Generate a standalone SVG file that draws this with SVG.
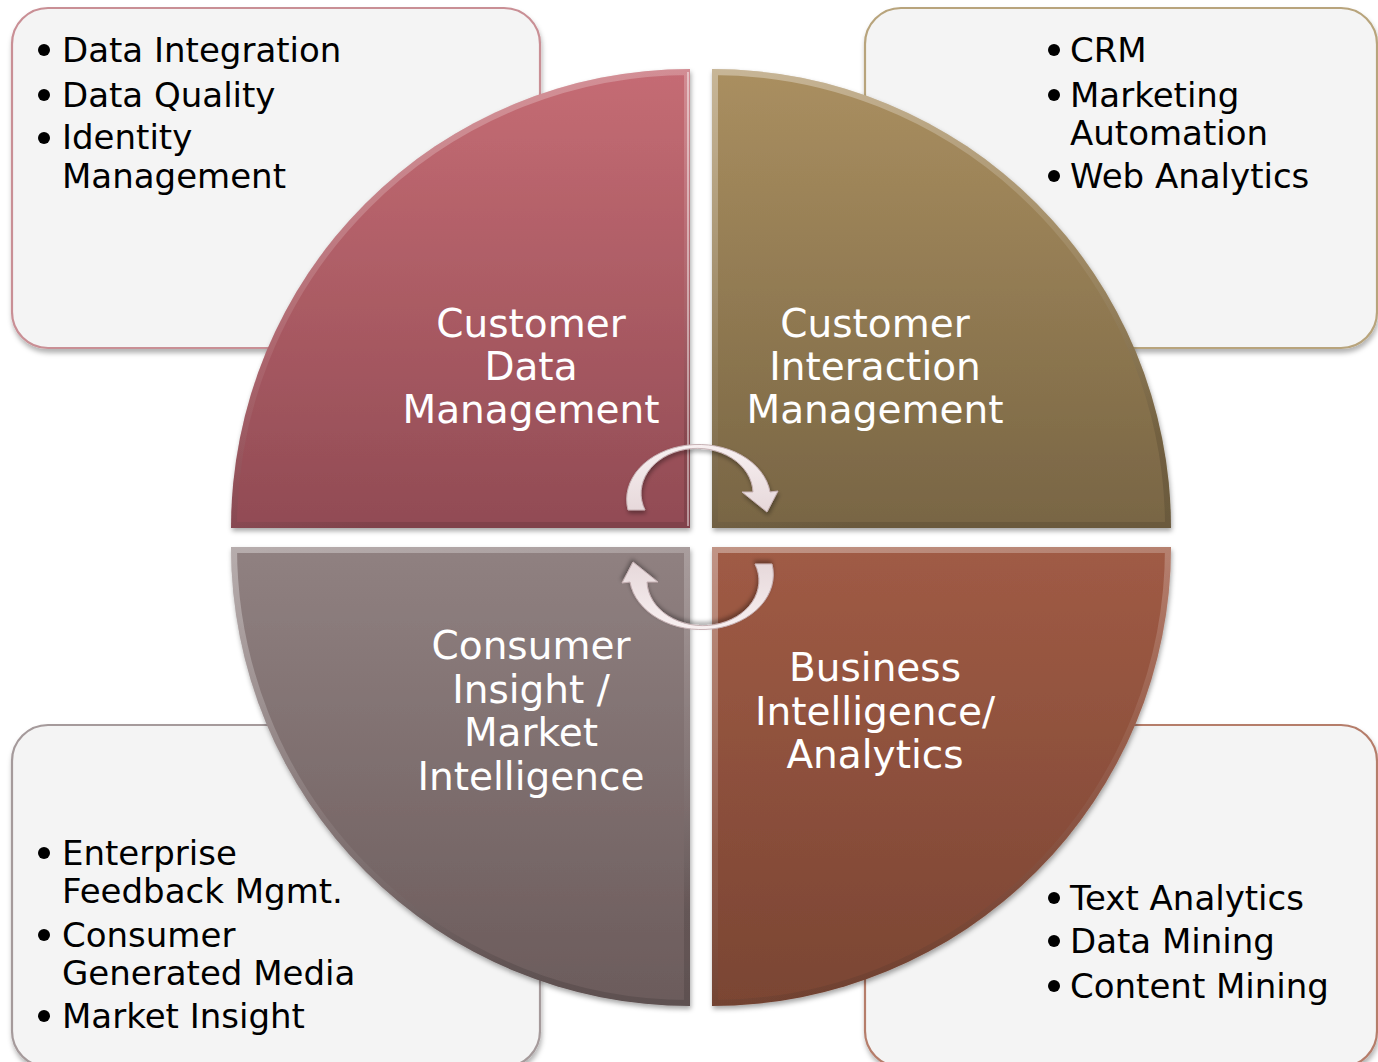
<svg xmlns="http://www.w3.org/2000/svg" width="1378" height="1062" viewBox="0 0 1378 1062">
<style>
.box{fill:#f4f4f4;stroke-width:2.2;filter:url(#shadow)}
.bt{font-family:"DejaVu Sans","Verdana",sans-serif;font-size:34px;fill:#000}
.qt{font-family:"DejaVu Sans","Verdana",sans-serif;font-size:39px;fill:#fff;text-anchor:middle}
.dot{fill:#000}
.pie{filter:url(#pshadow)}
.bevel{fill:none;stroke:url(#bev);stroke-width:12}
.arrow{fill:url(#arrg);stroke:#c7b2b5;stroke-width:1;filter:url(#ashadow)}
</style>
<defs>
<filter id="shadow" x="-5%" y="-5%" width="112%" height="115%">
<feDropShadow dx="1" dy="4" stdDeviation="2.5" flood-color="#000" flood-opacity="0.3"/>
</filter>
<filter id="pshadow" x="-5%" y="-5%" width="112%" height="115%">
<feDropShadow dx="1" dy="3" stdDeviation="2.5" flood-color="#000" flood-opacity="0.35"/>
</filter>
<filter id="ashadow" x="-10%" y="-10%" width="125%" height="130%">
<feDropShadow dx="1" dy="3" stdDeviation="2" flood-color="#000" flood-opacity="0.35"/>
</filter>
<linearGradient id="gTL" x1="0" y1="0" x2="0" y2="1"><stop offset="0" stop-color="#c56c74"/><stop offset="1" stop-color="#914b54"/></linearGradient>
<linearGradient id="gTR" x1="0" y1="0" x2="0" y2="1"><stop offset="0" stop-color="#aa8f60"/><stop offset="1" stop-color="#786544"/></linearGradient>
<linearGradient id="gBL" x1="0" y1="0" x2="0" y2="1"><stop offset="0" stop-color="#908181"/><stop offset="1" stop-color="#6b5b5b"/></linearGradient>
<linearGradient id="gBR" x1="0" y1="0" x2="0" y2="1"><stop offset="0" stop-color="#a05b45"/><stop offset="1" stop-color="#7a4533"/></linearGradient>
<linearGradient id="bev" x1="0" y1="0" x2="0.3" y2="1"><stop offset="0" stop-color="#fff" stop-opacity="0.35"/><stop offset="0.6" stop-color="#fff" stop-opacity="0.08"/><stop offset="1" stop-color="#000" stop-opacity="0.12"/></linearGradient>
<linearGradient id="arrg" x1="0" y1="0" x2="0" y2="1"><stop offset="0" stop-color="#f8f0f1"/><stop offset="1" stop-color="#e6d8da"/></linearGradient>
<clipPath id="cTL"><path d="M690 528 H231 A459 459 0 0 1 690 69 Z"/></clipPath>
<clipPath id="cTR"><path d="M712 528 V69 A459 459 0 0 1 1171 528 Z"/></clipPath>
<clipPath id="cBL"><path d="M690 547 V1006 A459 459 0 0 1 231 547 Z"/></clipPath>
<clipPath id="cBR"><path d="M712 547 H1171 A459 459 0 0 1 712 1006 Z"/></clipPath>
</defs>

<g id="box-tl">
<rect class="box" x="12" y="8" width="528" height="340" rx="36" stroke="#c98f95"/>
<circle class="dot" cx="44" cy="50" r="6"/><text class="bt" x="62" y="62">Data Integration</text>
<circle class="dot" cx="44" cy="95" r="6"/><text class="bt" x="62" y="107">Data Quality</text>
<circle class="dot" cx="44" cy="138" r="6"/><text class="bt" x="62" y="149">Identity</text>
<text class="bt" x="62" y="188">Management</text>
</g>
<g id="box-tr">
<rect class="box" x="865" y="8" width="512" height="340" rx="36" stroke="#b8a47c"/>
<circle class="dot" cx="1054" cy="50" r="6"/><text class="bt" x="1070" y="62">CRM</text>
<circle class="dot" cx="1054" cy="95" r="6"/><text class="bt" x="1070" y="107">Marketing</text>
<text class="bt" x="1070" y="145">Automation</text>
<circle class="dot" cx="1054" cy="176" r="6"/><text class="bt" x="1070" y="188">Web Analytics</text>
</g>
<g id="box-bl">
<rect class="box" x="12" y="725" width="528" height="342" rx="36" stroke="#a59a9b"/>
<circle class="dot" cx="44" cy="853" r="6"/><text class="bt" x="62" y="865">Enterprise</text>
<text class="bt" x="62" y="903">Feedback Mgmt.</text>
<circle class="dot" cx="44" cy="935" r="6"/><text class="bt" x="62" y="947">Consumer</text>
<text class="bt" x="62" y="985">Generated Media</text>
<circle class="dot" cx="44" cy="1016" r="6"/><text class="bt" x="62" y="1028">Market Insight</text>
</g>
<g id="box-br">
<rect class="box" x="865" y="725" width="512" height="342" rx="36" stroke="#b57d6b"/>
<circle class="dot" cx="1054" cy="898" r="6"/><text class="bt" x="1070" y="910">Text Analytics</text>
<circle class="dot" cx="1054" cy="941" r="6"/><text class="bt" x="1070" y="953">Data Mining</text>
<circle class="dot" cx="1054" cy="986" r="6"/><text class="bt" x="1070" y="998">Content Mining</text>
</g>

<g id="pie-tl">
<path class="pie" d="M690 528 H231 A459 459 0 0 1 690 69 Z" fill="url(#gTL)"/>
<path class="bevel" clip-path="url(#cTL)" d="M690 528 H231 A459 459 0 0 1 690 69 Z"/>
<line x1="688" y1="72" x2="688" y2="526" stroke="#fff" stroke-opacity="0.6" stroke-width="1.5"/>
<text class="qt" x="531" y="337">Customer</text>
<text class="qt" x="531" y="380">Data</text>
<text class="qt" x="531" y="423">Management</text>
</g>
<g id="pie-tr">
<path class="pie" d="M712 528 V69 A459 459 0 0 1 1171 528 Z" fill="url(#gTR)"/>
<path class="bevel" clip-path="url(#cTR)" d="M712 528 V69 A459 459 0 0 1 1171 528 Z"/>
<text class="qt" x="875" y="337">Customer</text>
<text class="qt" x="875" y="380">Interaction</text>
<text class="qt" x="875" y="423">Management</text>
</g>
<g id="pie-bl">
<path class="pie" d="M690 547 V1006 A459 459 0 0 1 231 547 Z" fill="url(#gBL)"/>
<path class="bevel" clip-path="url(#cBL)" d="M690 547 V1006 A459 459 0 0 1 231 547 Z"/>
<text class="qt" x="531" y="659">Consumer</text>
<text class="qt" x="531" y="703">Insight /</text>
<text class="qt" x="531" y="746">Market</text>
<text class="qt" x="531" y="790">Intelligence</text>
</g>
<g id="pie-br">
<path class="pie" d="M712 547 H1171 A459 459 0 0 1 712 1006 Z" fill="url(#gBR)"/>
<path class="bevel" clip-path="url(#cBR)" d="M712 547 H1171 A459 459 0 0 1 712 1006 Z"/>
<text class="qt" x="875" y="681">Business</text>
<text class="qt" x="875" y="725">Intelligence/</text>
<text class="qt" x="875" y="768">Analytics</text>
</g>

<g id="connectors">
<path id="arrow-top" class="arrow" d="M628 510 A72 55 0 1 1 770 492 L778 491 L767 512 L742 492 L753 492 A56 45 0 1 0 645 510 Z"/>
<path id="arrow-bottom" class="arrow" transform="rotate(180 700 537)" d="M628 510 A72 55 0 1 1 770 492 L778 491 L767 512 L742 492 L753 492 A56 45 0 1 0 645 510 Z"/>
</g>
</svg>
